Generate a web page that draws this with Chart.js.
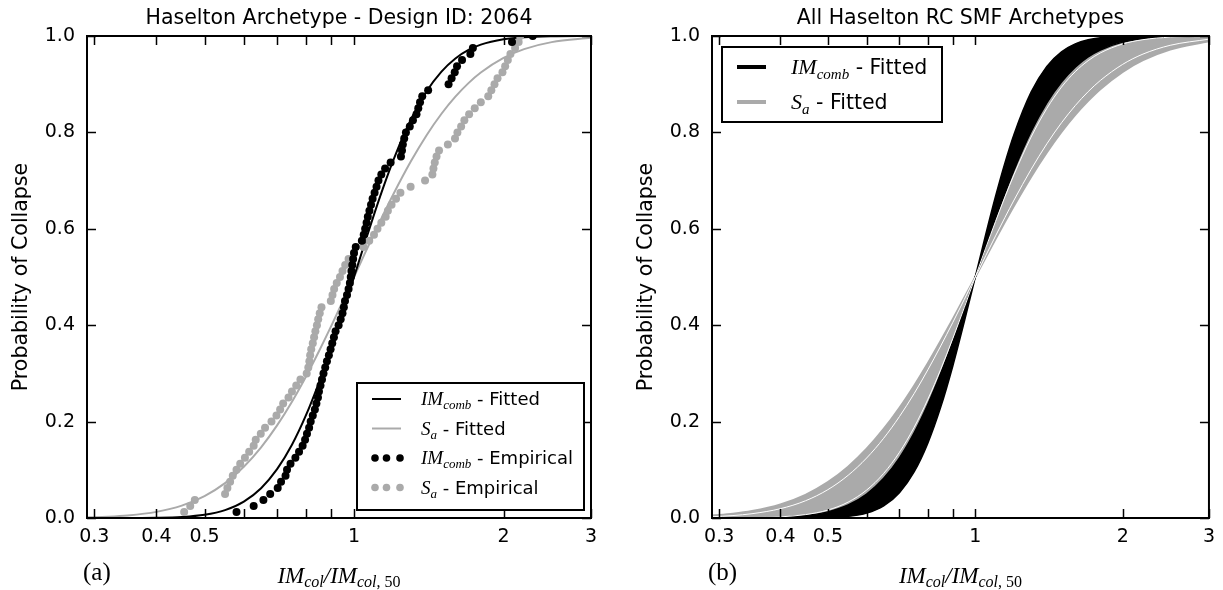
<!DOCTYPE html>
<html>
<head>
<meta charset="utf-8">
<script src="https://cdn.jsdelivr.net/npm/chart.js@4.4.1/dist/chart.umd.min.js"></script>
<style>
  body { margin: 0; width: 1223px; height: 590px; overflow: hidden; background: #fff; position: relative; }
  .panel { position: absolute; top: 0; }
</style>
</head>
<body>
<div class="panel" style="left:0;width:611px;height:590px"><canvas id="left" width="611" height="590"></canvas></div>
<div class="panel" style="left:625px;width:598px;height:590px"><canvas id="right" width="598" height="590"></canvas></div>
<script>
// axis ticks
const xTickValues = [0.3, 0.4, 0.5, 0.6, 0.7, 0.8, 0.9, 1, 2, 3];
const xTickLabels = ['0.3', '0.4', '0.5', '', '', '', '', '1', '2', '3'];
const yTickValues = [0, 0.2, 0.4, 0.6, 0.8, 1.0];
const yTickLabels = ['0.0', '0.2', '0.4', '0.6', '0.8', '1.0'];

// grid of IM ratios used for the fitted curves
const xGrid = [0.29, 0.32, 0.35, 0.4, 0.45, 0.5, 0.55, 0.6, 0.65, 0.7, 0.75, 0.8, 0.85, 0.9, 0.95,
  1.0, 1.05, 1.1, 1.15, 1.2, 1.3, 1.4, 1.5, 1.6, 1.7, 1.8, 2.0, 2.2, 2.5, 3.0];

// (a) fitted curves for design 2064
const imcombFit = [0, 0, 0.0001, 0.0005, 0.0022, 0.0067, 0.0164, 0.0341, 0.0619, 0.1013, 0.152, 0.2128, 0.281, 0.3534, 0.4274,
  0.5, 0.5691, 0.6331, 0.6911, 0.7425, 0.8257, 0.8853, 0.9262, 0.9534, 0.971, 0.9821, 0.9933, 0.9976, 0.9995, 1.0];
const saFit = [0.0013, 0.0027, 0.0052, 0.0127, 0.0257, 0.0455, 0.0724, 0.1064, 0.1467, 0.1922, 0.2414, 0.2932, 0.346, 0.3986, 0.4502,
  0.5, 0.5474, 0.5918, 0.6334, 0.6718, 0.739, 0.7942, 0.8387, 0.8741, 0.9022, 0.9242, 0.9545, 0.9728, 0.9873, 0.9963];

// (a) empirical collapse fractions
const probLevels = [0.0125, 0.025, 0.0375, 0.05, 0.0625, 0.075, 0.0875, 0.1, 0.1125, 0.125,
  0.1375, 0.15, 0.1625, 0.175, 0.1875, 0.2, 0.2125, 0.225, 0.2375, 0.25,
  0.2625, 0.275, 0.2875, 0.3, 0.3125, 0.325, 0.3375, 0.35, 0.3625, 0.375,
  0.3875, 0.4, 0.4125, 0.425, 0.4375, 0.45, 0.4625, 0.475, 0.4875, 0.5,
  0.5125, 0.525, 0.5375, 0.55, 0.5625, 0.575, 0.5875, 0.6, 0.6125, 0.625,
  0.6375, 0.65, 0.6625, 0.675, 0.6875, 0.7, 0.7125, 0.725, 0.7375, 0.75,
  0.7625, 0.775, 0.7875, 0.8, 0.8125, 0.825, 0.8375, 0.85, 0.8625, 0.875,
  0.8875, 0.9, 0.9125, 0.925, 0.9375, 0.95, 0.9625, 0.975, 0.9875, 1.0];
const imcombEmp = [0.58, 0.628, 0.657, 0.678, 0.702, 0.713, 0.728, 0.733, 0.745, 0.762,
  0.775, 0.788, 0.797, 0.804, 0.812, 0.818, 0.826, 0.834, 0.84, 0.846,
  0.85, 0.856, 0.862, 0.868, 0.875, 0.882, 0.89, 0.897, 0.904, 0.911,
  0.918, 0.931, 0.94, 0.948, 0.954, 0.959, 0.968, 0.975, 0.981, 0.985,
  0.988, 0.992, 0.996, 1.0, 1.008, 1.037, 1.046, 1.053, 1.06, 1.066,
  1.074, 1.082, 1.09, 1.1, 1.11, 1.12, 1.135, 1.155, 1.185, 1.243,
  1.249, 1.254, 1.262, 1.272, 1.295, 1.314, 1.336, 1.347, 1.358, 1.372,
  1.41, 1.55, 1.572, 1.595, 1.612, 1.65, 1.715, 1.735, 2.08, 2.29];
const saEmp = [0.455, 0.468, 0.478, 0.55, 0.556, 0.563, 0.57, 0.58, 0.59, 0.603,
  0.615, 0.628, 0.634, 0.649, 0.662, 0.682, 0.698, 0.71, 0.72, 0.738,
  0.75, 0.765, 0.78, 0.803, 0.809, 0.813, 0.816, 0.82, 0.826, 0.831,
  0.836, 0.842, 0.847, 0.853, 0.86, 0.898, 0.905, 0.912, 0.923, 0.937,
  0.948, 0.96, 0.975, 1.0, 1.045, 1.073, 1.097, 1.115, 1.135, 1.158,
  1.17, 1.19, 1.215, 1.24, 1.3, 1.39, 1.438, 1.445, 1.454, 1.466,
  1.483, 1.545, 1.597, 1.615, 1.643, 1.668, 1.705, 1.75, 1.8, 1.863,
  1.89, 1.918, 1.945, 1.99, 2.015, 2.04, 2.065, 2.11, 2.145, 2.16];

// (b) envelopes of all archetype curves
const combSteepest = [0, 0, 0, 0, 0.0001, 0.0008, 0.0033, 0.0101, 0.0251, 0.0525, 0.0955, 0.1553, 0.23, 0.316, 0.4079,
  0.5, 0.5878, 0.6675, 0.7373, 0.7964, 0.8835, 0.937, 0.9673, 0.9837, 0.9921, 0.9962, 0.9992, 0.9998, 1.0, 1.0];
const combFlattest = [0, 0.0001, 0.0004, 0.0016, 0.005, 0.0127, 0.0269, 0.0497, 0.0823, 0.1249, 0.1767, 0.2358, 0.3001, 0.3669, 0.4343,
  0.5, 0.5625, 0.6207, 0.674, 0.7218, 0.8013, 0.8612, 0.9045, 0.9353, 0.9566, 0.971, 0.9873, 0.9945, 0.9984, 0.9998];
const saFlattest = [0.005, 0.0088, 0.0144, 0.0281, 0.0481, 0.0744, 0.1065, 0.1436, 0.1847, 0.2287, 0.2745, 0.321, 0.3675, 0.4131, 0.4574,
  0.5, 0.5405, 0.5787, 0.6146, 0.648, 0.7077, 0.7584, 0.8009, 0.8363, 0.8654, 0.8896, 0.9256, 0.9498, 0.9719, 0.989];
// gaps between groups of S_a curves
const saGapA = [0.0001, 0.0002, 0.0006, 0.0024, 0.007, 0.0165, 0.033, 0.058, 0.0925, 0.1362, 0.188, 0.2462, 0.3085, 0.3728, 0.4373,
  0.5, 0.5597, 0.6153, 0.6664, 0.7126, 0.7903, 0.8497, 0.894, 0.9259, 0.9488, 0.9648, 0.9835, 0.9924, 0.9976, 0.9996];
const saGapB = [0.0026, 0.0051, 0.0089, 0.0193, 0.0357, 0.0588, 0.0886, 0.1245, 0.1654, 0.2104, 0.258, 0.3073, 0.3569, 0.406, 0.4539,
  0.5, 0.5439, 0.5852, 0.6238, 0.6597, 0.7232, 0.7763, 0.82, 0.8556, 0.8845, 0.9077, 0.9412, 0.9625, 0.9807, 0.9934];

const GRAY = '#aaaaaa';
const SERIF = '"Liberation Serif", "DejaVu Serif", serif';
const SANS = '"DejaVu Sans", sans-serif';

Chart.defaults.font.family = SANS;
Chart.defaults.color = '#000';

function pts(xs, ys) { return xs.map((x, i) => ({ x: x, y: ys[i] })); }

function runsWidth(ctx, runs) {
  let w = 0;
  runs.forEach(r => { ctx.font = r.f; w += ctx.measureText(r.t).width; });
  return w;
}
function drawRuns(ctx, runs, x, y) {
  runs.forEach(r => {
    ctx.font = r.f;
    ctx.fillText(r.t, x, y + (r.dy || 0));
    x += ctx.measureText(r.t).width;
  });
}
function symRuns(main, sub, rest, size) {
  return [
    { t: main, f: 'italic ' + Math.round(size * 1.08) + 'px ' + SERIF },
    { t: sub, f: 'italic ' + Math.round(size * 0.74) + 'px ' + SERIF, dy: Math.round(size * 0.22) },
    { t: rest, f: size + 'px ' + SANS }
  ];
}

const xLabelRuns = [
  { t: 'IM', f: 'italic 23px ' + SERIF },
  { t: 'col', f: 'italic 16px ' + SERIF, dy: 4 },
  { t: '/', f: 'italic 23px ' + SERIF },
  { t: 'IM', f: 'italic 23px ' + SERIF },
  { t: 'col', f: 'italic 16px ' + SERIF, dy: 4 },
  { t: ', 50', f: '16px ' + SERIF, dy: 4 }
];

function decor(o) {
  return {
    id: 'decor',
    afterDraw(chart) {
      const ctx = chart.ctx, a = chart.chartArea, sx = chart.scales.x, sy = chart.scales.y;
      ctx.save();
      ctx.strokeStyle = '#000';
      ctx.lineWidth = 1.5;
      ctx.beginPath();
      xTickValues.forEach(v => {
        const px = Math.round(sx.getPixelForValue(v)) + 0.5;
        ctx.moveTo(px, a.bottom); ctx.lineTo(px, a.bottom - 9);
        ctx.moveTo(px, a.top); ctx.lineTo(px, a.top + 9);
      });
      yTickValues.forEach(v => {
        const py = Math.round(sy.getPixelForValue(v)) + 0.5;
        ctx.moveTo(a.left, py); ctx.lineTo(a.left + 9, py);
        ctx.moveTo(a.right, py); ctx.lineTo(a.right - 9, py);
      });
      ctx.stroke();
      ctx.lineWidth = 2;
      ctx.strokeRect(a.left, a.top, a.right - a.left, a.bottom - a.top);

      // title
      ctx.fillStyle = '#000';
      ctx.textAlign = 'center';
      ctx.textBaseline = 'alphabetic';
      ctx.font = '20.5px ' + SANS;
      ctx.fillText(o.title, (a.left + a.right) / 2, 24);

      // legend
      const L = o.legend;
      ctx.fillStyle = '#fff';
      ctx.fillRect(L.x, L.y, L.w, L.h);
      ctx.strokeStyle = '#000';
      ctx.lineWidth = 2;
      ctx.strokeRect(L.x, L.y, L.w, L.h);
      ctx.textAlign = 'left';
      L.items.forEach((it, i) => {
        const cy = L.y + L.first + i * L.step;
        const x0 = L.x + 15, x1 = L.x + 44;
        if (it.kind === 'line') {
          ctx.strokeStyle = it.color;
          ctx.lineWidth = it.lw;
          ctx.beginPath(); ctx.moveTo(x0, cy); ctx.lineTo(x1, cy); ctx.stroke();
        } else {
          ctx.fillStyle = it.color;
          [x0 + 3, (x0 + x1) / 2, x1 - 1].forEach(dx => {
            ctx.beginPath(); ctx.arc(dx, cy, 3.8, 0, Math.PI * 2); ctx.fill();
          });
        }
        ctx.fillStyle = '#000';
        drawRuns(ctx, it.runs, L.x + L.textOff, cy + L.base);
      });

      // x label and panel letter
      const w = runsWidth(ctx, xLabelRuns);
      drawRuns(ctx, xLabelRuns, (a.left + a.right) / 2 - w / 2, 583);
      ctx.font = '25px ' + SERIF;
      ctx.fillText(o.letter, a.left - 4, 580);
      ctx.restore();
    }
  };
}

function options(padRight) {
  return {
    responsive: false,
    animation: false,
    devicePixelRatio: 1,
    layout: { padding: { left: 0, right: padRight, top: 36, bottom: 0 } },
    plugins: { legend: { display: false }, tooltip: { enabled: false } },
    elements: { point: { radius: 0 } },
    scales: {
      x: {
        type: 'logarithmic', min: 0.29, max: 3,
        grid: { display: false, drawTicks: false },
        border: { display: false },
        afterBuildTicks: s => { s.ticks = xTickValues.map(v => ({ value: v })); },
        afterFit: s => { s.height = 72; },
        ticks: {
          autoSkip: false, maxRotation: 0, padding: 8,
          font: { size: 19 }, color: '#000',
          callback: (v, i) => xTickLabels[i]
        }
      },
      y: {
        min: 0, max: 1,
        grid: { display: false, drawTicks: false },
        border: { display: false },
        afterBuildTicks: s => { s.ticks = yTickValues.map(v => ({ value: v })); },
        afterFit: s => { s.width = 87; },
        ticks: { padding: 12, font: { size: 19 }, color: '#000', callback: (v, i) => yTickLabels[i] },
        title: { display: true, text: 'Probability of Collapse', font: { size: 20.5 }, color: '#000', padding: { top: 9, bottom: 0 } }
      }
    }
  };
}

const curve = (ys, color, width, extra) => Object.assign({
  data: pts(xGrid, ys), borderColor: color, borderWidth: width, pointRadius: 0,
  cubicInterpolationMode: 'monotone', fill: false
}, extra || {});

new Chart(document.getElementById('left'), {
  type: 'line',
  data: {
    datasets: [
      { data: pts(imcombEmp, probLevels), showLine: false, pointRadius: 4, pointBorderWidth: 0, pointBackgroundColor: '#000', order: 0 },
      { data: pts(saEmp, probLevels), showLine: false, pointRadius: 4, pointBorderWidth: 0, pointBackgroundColor: GRAY, order: 1 },
      curve(imcombFit, '#000', 2, { order: 2 }),
      curve(saFit, GRAY, 2, { order: 3 })
    ]
  },
  options: options(20),
  plugins: [decor({
    title: 'Haselton Archetype - Design ID: 2064',
    letter: '(a)',
    legend: {
      x: 357, y: 383, w: 227, h: 127, first: 16, step: 29.5, base: 6, textOff: 64,
      items: [
        { kind: 'line', color: '#000', lw: 2, runs: symRuns('IM', 'comb', ' - Fitted', 18) },
        { kind: 'line', color: GRAY, lw: 2, runs: symRuns('S', 'a', ' - Fitted', 18) },
        { kind: 'dots', color: '#000', runs: symRuns('IM', 'comb', ' - Empirical', 18) },
        { kind: 'dots', color: GRAY, runs: symRuns('S', 'a', ' - Empirical', 18) }
      ]
    }
  })]
});

new Chart(document.getElementById('right'), {
  type: 'line',
  data: {
    datasets: [
      curve(saGapA, '#fff', 1, { order: 0 }),
      curve(saGapB, '#fff', 1, { order: 0 }),
      curve(combSteepest, '#000', 1.5, { fill: 3, backgroundColor: '#000', order: 1 }),
      curve(combFlattest, '#000', 1.5, { order: 1 }),
      curve(combFlattest, GRAY, 1.5, { fill: 5, backgroundColor: GRAY, order: 2 }),
      curve(saFlattest, GRAY, 2, { order: 2 })
    ]
  },
  options: options(7),
  plugins: [decor({
    title: 'All Haselton RC SMF Archetypes',
    letter: '(b)',
    legend: {
      x: 97, y: 47, w: 220, h: 75, first: 20, step: 35, base: 7, textOff: 69,
      items: [
        { kind: 'line', color: '#000', lw: 4, runs: symRuns('IM', 'comb', ' - Fitted', 20.5) },
        { kind: 'line', color: GRAY, lw: 4, runs: symRuns('S', 'a', ' - Fitted', 20.5) }
      ]
    }
  })]
});
</script>
</body>
</html>
